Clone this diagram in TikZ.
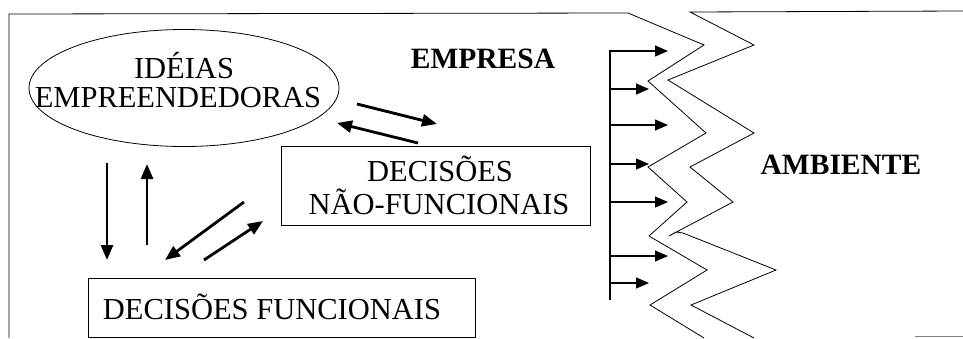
\documentclass[tikz,border=0pt]{standalone}
\usepackage{fontspec}
\setmainfont{Liberation Serif}
\usetikzlibrary{shapes.geometric,arrows.meta}
\begin{document}
\begin{tikzpicture}[x=1pt,y=-1pt,
  txt/.style={font=\fontsize{30.5}{30}\selectfont, align=center, inner sep=0pt},
  btxt/.style={font=\fontsize{29.5}{29}\selectfont\bfseries, inner sep=0pt},
  bigarrow/.style={line width=2.8pt, -{Triangle[length=15pt,width=12pt]}},
  bararrow/.style={line width=1.2pt, -{Triangle[length=13pt,width=11pt]}},
  thin line/.style={line width=0.8pt},
  boxnode/.style={draw, line width=0.8pt, inner sep=0pt}]
\useasboundingbox (0,0) rectangle (963,338);
% frame and zigzags
\draw[thin line] (9,338) -- (9,14) -- (628,13) -- (704,45) -- (648,81) -- (706,133) -- (648,167) -- (687,202) -- (649,236) -- (707,270) -- (650,305) -- (704,338);
\draw[thin line] (963,11) -- (690,12) -- (754,45) -- (668,80) -- (754,133) -- (690,167) -- (733,202) -- (669,236) -- (676,232) -- (683,233) -- (776,270) -- (691,305) -- (754,338);
\draw[line width=0.6pt, gray] (915,336.5) -- (963,336.5);
% nodes
\node[draw, ellipse, thin line, minimum width=310pt, minimum height=117pt, inner sep=0pt] (idea) at (184,88) {};
\node[txt, anchor=base] (l1) at (184,78) {IDÉIAS};
\node[txt, anchor=base] (l2) at (178,107) {EMPREENDEDORAS};
\node[btxt] (emp) at (483,59) {EMPRESA};
\node[btxt] (amb) at (841,165) {AMBIENTE};
\node[boxnode, minimum width=309pt, minimum height=79pt] (nf) at (435.5,185.5) {};
\node[txt, anchor=base] (nf1) at (440,181) {DECISÕES};
\node[txt, anchor=base] (nf2) at (439,214) {NÃO-FUNCIONAIS};
\node[boxnode, minimum width=387pt, minimum height=59pt] (fn) at (281.5,307.5) {};
\node[txt, anchor=base] (fn1) at (272,319) {DECISÕES FUNCIONAIS};
% arrows between blocks
\coordinate (a1s) at (357,104); \coordinate (a1e) at (437,124);
\coordinate (a2s) at (418,143); \coordinate (a2e) at (337,123);
\coordinate (a3s) at (107,163); \coordinate (a3e) at (107,260);
\coordinate (a4s) at (147,245); \coordinate (a4e) at (147,164);
\coordinate (a5s) at (244,202); \coordinate (a5e) at (165,260);
\coordinate (a6s) at (204,260); \coordinate (a6e) at (263,221);
\draw[bigarrow] (a1s) -- (a1e);
\draw[bigarrow] (a2s) -- (a2e);
\draw[bigarrow] (a3s) -- (a3e);
\draw[bigarrow] (a4s) -- (a4e);
\draw[bigarrow] (a5s) -- (a5e);
\draw[bigarrow] (a6s) -- (a6e);
% bar with arrows
\coordinate (bt) at (610,50); \coordinate (bb) at (610,300);
\draw[line width=2.4pt] (bt) -- (bb);
\foreach \y/\x [count=\i] in {51/668,89/649,125/668,164/649,202/668,256/668,283/649}{
  \coordinate (bs\i) at (610,\y);
  \coordinate (be\i) at (\x,\y);
  \draw[bararrow] (bs\i) -- (be\i);
}
\end{tikzpicture}
\end{document}
